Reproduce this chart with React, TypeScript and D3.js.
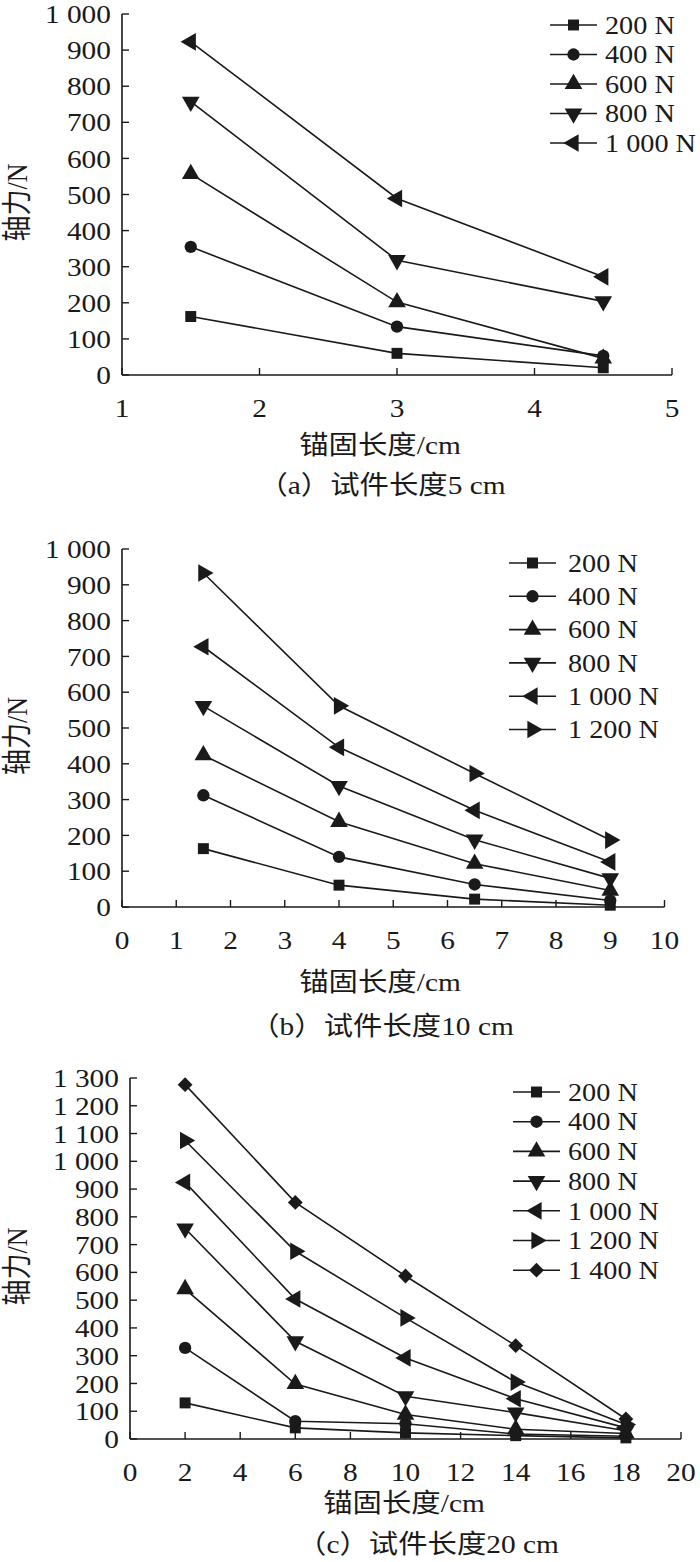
import React from "react";
import * as d3 from "d3";

// anchorage length (cm) and axial force (N)
const lengthsA = [1.5, 3, 4.5];
const loadsA = ["200 N", "400 N", "600 N", "800 N", "1 000 N"];
const forceA = [
  [162, 60, 20],
  [355, 134, 53],
  [557, 202, 46],
  [757, 318, 204],
  [923, 489, 272],
];

const lengthsB = [1.5, 4, 6.5, 9];
const loadsB = ["200 N", "400 N", "600 N", "800 N", "1 000 N", "1 200 N"];
const forceB = [
  [163, 61, 22, 5],
  [312, 140, 63, 18],
  [424, 238, 121, 46],
  [561, 338, 188, 80],
  [727, 446, 270, 126],
  [933, 562, 373, 187],
];

const lengthsC = [2, 6, 10, 14, 18];
const loadsC = ["200 N", "400 N", "600 N", "800 N", "1 000 N", "1 200 N", "1 400 N"];
const forceC = [
  [130, 40, 22, 12, 4],
  [328, 64, 55, 18, 10],
  [540, 198, 88, 35, 20],
  [758, 352, 154, 95, 30],
  [924, 504, 292, 145, 40],
  [1075, 676, 436, 205, 52],
  [1276, 852, 587, 336, 72],
];

const xTicksA = [1, 2, 3, 4, 5];
const xTicksB = d3.range(0, 11, 1);
const xTicksC = d3.range(0, 21, 2);
const yTicksAB = d3.range(0, 1001, 100);
const yTicksC = d3.range(0, 1301, 100);

const FONT = "'Liberation Serif', 'Times New Roman', 'Noto Sans CJK SC', serif";
const INK = "#1a1a1a";
// the source figure's lettering is a little wider than it is tall
const STRETCH = 1.13;

const fmt = d3
  .formatLocale({ decimal: ".", thousands: " ", grouping: [3], currency: ["", ""] })
  .format(",");

const shapes = [
  { type: d3.symbolSquare, rot: 0, size: 120 },
  { type: d3.symbolCircle, rot: 0, size: 120 },
  { type: d3.symbolTriangle, rot: 0, size: 135 },
  { type: d3.symbolTriangle, rot: 180, size: 135 },
  { type: d3.symbolTriangle, rot: -90, size: 135 },
  { type: d3.symbolTriangle, rot: 90, size: 135 },
  { type: d3.symbolSquare, rot: 45, size: 110 },
];

function Marker({ i, x, y }: { i: number; x: number; y: number }) {
  const s = shapes[i];
  const d = d3.symbol().type(s.type).size(s.size)() as string;
  return <path d={d} transform={`translate(${x},${y}) rotate(${s.rot})`} fill={INK} />;
}

function Txt(props: {
  x: number;
  y: number;
  size: number;
  anchor?: "start" | "middle" | "end";
  dy?: string;
  rotate?: number;
  children: React.ReactNode;
}) {
  const rot = props.rotate ? ` rotate(${props.rotate})` : "";
  return (
    <text
      transform={`translate(${props.x},${props.y})${rot} scale(${STRETCH},1)`}
      textAnchor={props.anchor || "start"}
      dy={props.dy}
      fontSize={props.size}
    >
      {props.children}
    </text>
  );
}

interface PanelProps {
  lengths: number[];
  loads: string[];
  force: number[][];
  xDomain: [number, number];
  yDomain: [number, number];
  xTicks: number[];
  yTicks: number[];
  left: number;
  right: number;
  top: number;
  bottom: number;
  legend: { x: number; y: number; dy: number; gap: number };
  xTitle: [number, number];
  captionPos: [number, number];
  caption: string;
}

function Panel(p: PanelProps) {
  const x = d3.scaleLinear().domain(p.xDomain).range([p.left, p.right]);
  const y = d3.scaleLinear().domain(p.yDomain).range([p.bottom, p.top]);
  const line = d3
    .line<number>()
    .x((_, j) => x(p.lengths[j]))
    .y((v) => y(v));

  return (
    <g fontFamily={FONT} fill={INK}>
      {/* axes */}
      <line x1={p.left} x2={p.left} y1={p.top} y2={p.bottom} stroke={INK} strokeWidth={1.6} />
      <line x1={p.left} x2={p.right} y1={p.bottom} y2={p.bottom} stroke={INK} strokeWidth={1.6} />
      {p.yTicks.map((t) => (
        <g key={"y" + t}>
          <line x1={p.left} x2={p.left + 7} y1={y(t)} y2={y(t)} stroke={INK} strokeWidth={1.4} />
          <Txt x={p.left - 11} y={y(t)} dy="0.35em" anchor="end" size={26}>
            {fmt(t)}
          </Txt>
        </g>
      ))}
      {p.xTicks.map((t) => (
        <g key={"x" + t}>
          <line x1={x(t)} x2={x(t)} y1={p.bottom} y2={p.bottom - 7} stroke={INK} strokeWidth={1.4} />
          <Txt x={x(t)} y={p.bottom + 42} anchor="middle" size={26}>
            {t}
          </Txt>
        </g>
      ))}

      {/* series */}
      {p.force.map((vals, i) => (
        <g key={"s" + i}>
          <path d={line(vals) as string} fill="none" stroke={INK} strokeWidth={1.6} />
          {vals.map((v, j) => (
            <Marker key={j} i={i} x={x(p.lengths[j])} y={y(v)} />
          ))}
        </g>
      ))}

      {/* legend */}
      {p.loads.map((name, i) => {
        const ly = p.legend.y + i * p.legend.dy;
        return (
          <g key={"l" + i}>
            <line x1={p.legend.x} x2={p.legend.x + 47} y1={ly} y2={ly} stroke={INK} strokeWidth={1.6} />
            <Marker i={i} x={p.legend.x + 23.5} y={ly} />
            <Txt x={p.legend.x + 47 + p.legend.gap} y={ly} dy="0.35em" size={25}>
              {name}
            </Txt>
          </g>
        );
      })}

      {/* titles */}
      <text
        transform={`translate(17,${(p.top + p.bottom) / 2 + 8}) rotate(-90) scale(1,${STRETCH})`}
        textAnchor="middle"
        dy="0.35em"
        fontSize={26}
      >
        轴力/N
      </text>
      <Txt x={p.xTitle[0]} y={p.xTitle[1]} anchor="middle" size={26}>
        锚固长度/cm
      </Txt>
      <Txt x={p.captionPos[0]} y={p.captionPos[1]} anchor="middle" size={26}>
        {p.caption}
      </Txt>
    </g>
  );
}

export default function App() {
  return (
    <div style={{ position: "absolute", left: 0, top: 0 }}>
      <svg width={700} height={1562} style={{ display: "block", background: "#fff" }}>
        <Panel
          lengths={lengthsA}
          loads={loadsA}
          force={forceA}
          xDomain={[1, 5]}
          yDomain={[0, 1000]}
          xTicks={xTicksA}
          yTicks={yTicksAB}
          left={122}
          right={672}
          top={14}
          bottom={375}
          legend={{ x: 550, y: 25, dy: 29.5, gap: 8 }}
          xTitle={[380, 454]}
          captionPos={[382, 494]}
          caption="（a）试件长度5 cm"
        />
        <Panel
          lengths={lengthsB}
          loads={loadsB}
          force={forceB}
          xDomain={[0, 10]}
          yDomain={[0, 1000]}
          xTicks={xTicksB}
          yTicks={yTicksAB}
          left={122}
          right={664.5}
          top={549}
          bottom={907}
          legend={{ x: 509, y: 563, dy: 33.3, gap: 12 }}
          xTitle={[380, 991]}
          captionPos={[382, 1035]}
          caption="（b）试件长度10 cm"
        />
        <Panel
          lengths={lengthsC}
          loads={loadsC}
          force={forceC}
          xDomain={[0, 20]}
          yDomain={[0, 1300]}
          xTicks={xTicksC}
          yTicks={yTicksC}
          left={130}
          right={681}
          top={1078}
          bottom={1439}
          legend={{ x: 513, y: 1092, dy: 29.7, gap: 8 }}
          xTitle={[404, 1512]}
          captionPos={[428, 1553]}
          caption="（c）试件长度20 cm"
        />
      </svg>
    </div>
  );
}
